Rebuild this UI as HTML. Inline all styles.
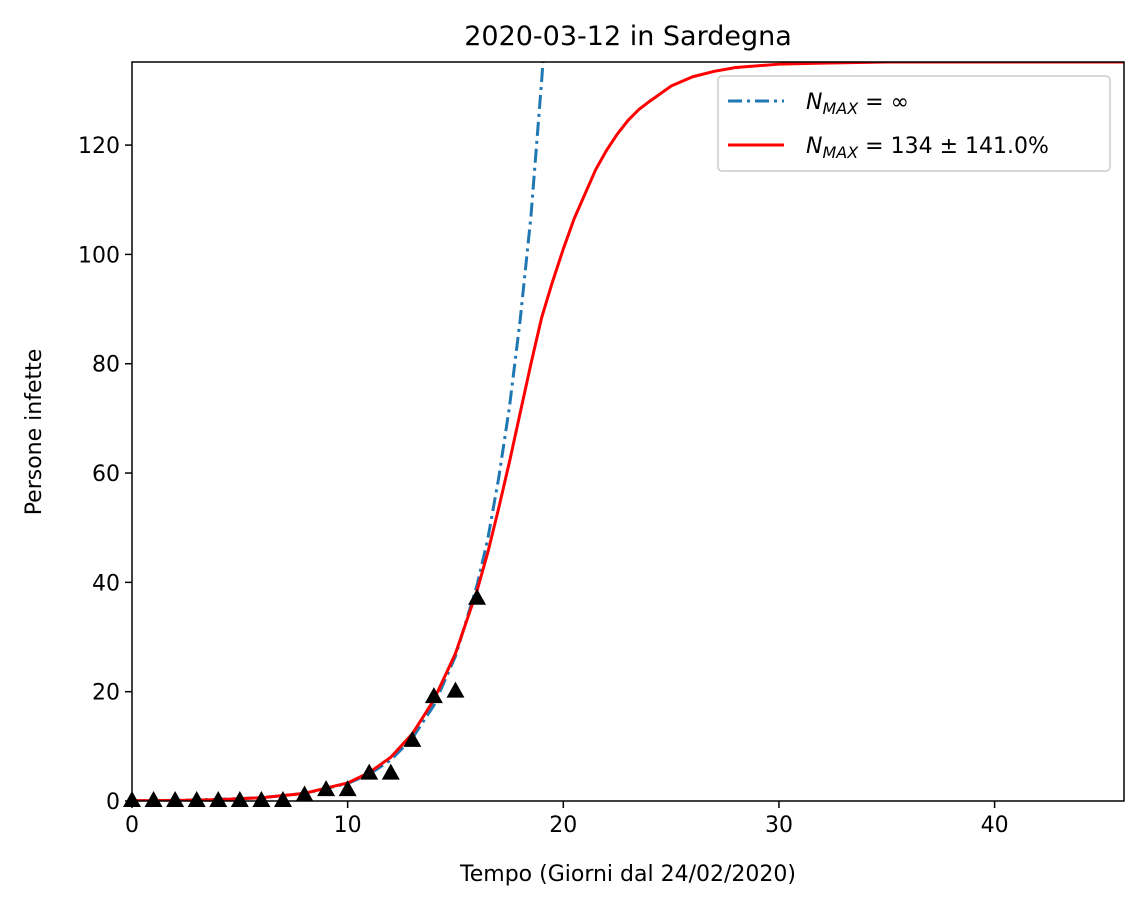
<!DOCTYPE html>
<html><head><meta charset="utf-8"><style>
html,body{margin:0;padding:0;background:#fff;}
svg{display:block;font-family:"DejaVu Sans","Liberation Sans",sans-serif;}
</style></head><body>
<svg id="chart" width="1143" height="908" viewBox="0 0 1143 908">
<rect width="1143" height="908" fill="#fff"/>
<text x="628" y="45" font-size="27" text-anchor="middle">2020-03-12 in Sardegna</text>
<defs><clipPath id="pc"><rect x="132" y="62" width="992" height="739"/></clipPath></defs>
<g id="plot" clip-path="url(#pc)"></g>
<g id="axes"></g>
<text x="628" y="881" font-size="22" text-anchor="middle">Tempo (Giorni dal 24/02/2020)</text>
<text transform="translate(41,432) rotate(-90)" font-size="22" text-anchor="middle">Persone infette</text>
<g>
<rect x="718" y="76" width="392" height="95" rx="4" fill="#fff" fill-opacity="0.8" stroke="#ccc" stroke-width="1.5"/>
<line x1="728" y1="101" x2="784" y2="101" stroke="#1f77b4" stroke-width="3" stroke-dasharray="14,5,3,5"/>
<text x="806" y="109" font-size="22"><tspan font-style="italic">N</tspan><tspan font-style="italic" font-size="16" dy="5">MAX</tspan><tspan dy="-5"> = ∞</tspan></text>
<line x1="728" y1="145" x2="784" y2="145" stroke="#ff0000" stroke-width="3"/>
<text x="806" y="153" font-size="22"><tspan font-style="italic">N</tspan><tspan font-style="italic" font-size="16" dy="5">MAX</tspan><tspan dy="-5"> = 134 ± 141.0%</tspan></text>
</g>
</svg>
<script>
const days = [0,1,2,3,4,5,6,7,8,9,10,11,12,13,14,15,16];
const cases = [0,0,0,0,0,0,0,0,1,2,2,5,5,11,19,20,37];
const expDays = [0,2,4,6,8,10,11,12,13,14,15,16,16.5,17,17.5,18,18.5,19,19.5];
const expVals = [0.05,0.12,0.3,0.6,1.4,3.2,4.9,7.5,11.5,17.5,26.5,39.5,48,59,72,88,107,132,160];
const logDays = [0,2,4,6,8,10,11,12,13,14,15,16,16.5,17,17.5,18,18.5,19,19.5,20,20.5,21,21.5,22,22.5,23,23.5,24,25,26,27,28,30,32,35,40,46];
const logVals = [0.04,0.1,0.25,0.6,1.4,3.3,5.2,8.0,12.3,18.5,27,38.5,45.5,53.5,62,71,80,88.5,95,101,106.5,111,115.5,119,122,124.5,126.5,128,130.8,132.5,133.5,134.2,134.8,135,135.2,135.2,135.2];
const xTicks = [0,10,20,30,40];
const yTicks = [0,20,40,60,80,100,120];
const X0=132,X1=1124,Y0=801,Y1=62,XMAX=46,YMAX=135.2;
const sx=v=>X0+(X1-X0)*v/XMAX, sy=v=>Y0-(Y0-Y1)*v/YMAX;
const NS='http://www.w3.org/2000/svg';
const plot=document.getElementById('plot'), axes=document.getElementById('axes');
function mk(t,a,p){const e=document.createElementNS(NS,t);for(const k in a)e.setAttribute(k,a[k]);p.appendChild(e);return e;}
const eline=mk('polyline',{points:expDays.map((d,i)=>sx(d)+','+sy(expVals[i])).join(' '),fill:'none',stroke:'#1f77b4','stroke-width':3,'stroke-dasharray':'14,5,3,5','stroke-linejoin':'round'},plot);


const lline=mk('polyline',{points:logDays.map((d,i)=>sx(d)+','+sy(logVals[i])).join(' '),fill:'none',stroke:'#ff0000','stroke-width':3,'stroke-linejoin':'round'},plot);


days.forEach((d,i)=>{const x=sx(d),y=sy(cases[i]);
const m=mk('polygon',{points:`${x},${y-10} ${x-9},${y+6} ${x+9},${y+6}`,fill:'#000'},document.getElementById('chart'));

});
const fr=mk('rect',{x:X0,y:Y1,width:X1-X0,height:Y0-Y1,fill:'none',stroke:'#000','stroke-width':1.5},axes);


xTicks.forEach(t=>{const x=sx(t);mk('line',{x1:x,y1:Y0,x2:x,y2:Y0+7,stroke:'#000','stroke-width':1.5},axes);
const l=mk('text',{x:x,y:Y0+31,'font-size':22,'text-anchor':'middle'},axes);l.textContent=t;

});
yTicks.forEach(t=>{const y=sy(t);mk('line',{x1:X0-7,y1:y,x2:X0,y2:y,stroke:'#000','stroke-width':1.5},axes);
const l=mk('text',{x:X0-12,y:y+8,'font-size':22,'text-anchor':'end'},axes);l.textContent=t;

});
</script>
</body></html>
